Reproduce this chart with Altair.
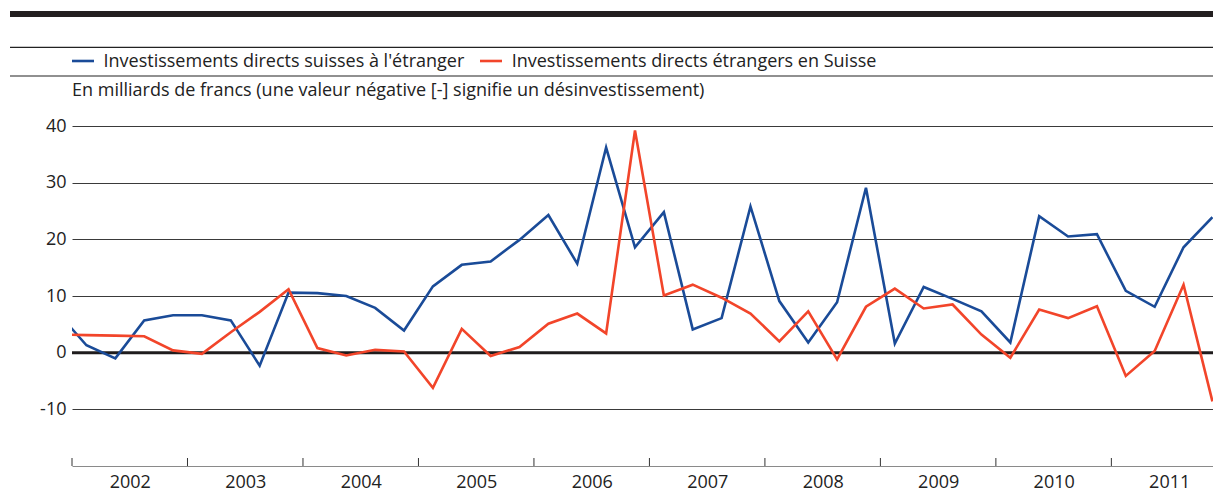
import altair as alt
import pandas as pd

# ---------------- data ----------------
series_names = [
    "Investissements directs suisses à l'étranger",
    "Investissements directs étrangers en Suisse",
]
series_colors = ["#1a4b98", "#f2452a"]

# quarters: 2001 T4 (only partly visible, clipped) then 2002 T1 ... 2011 T4
quarters = ["2001 T4"] + [f"{y} T{q}" for y in range(2002, 2012) for q in range(1, 5)]

swiss_abroad = [
    7.1,
    1.3, -1.0, 5.7, 6.6,
    6.6, 5.7, -2.3, 10.6,
    10.5, 10.0, 7.9, 3.9,
    11.7, 15.5, 16.1, 19.9,
    24.3, 15.7, 36.2, 18.6,
    24.8, 4.1, 6.1, 25.8,
    9.1, 1.8, 8.9, 29.1,
    1.6, 11.6, 9.5, 7.3,
    1.8, 24.1, 20.5, 20.9,
    10.9, 8.1, 18.6, 23.9,
]
foreign_in_ch = [
    3.2,
    3.1, 3.0, 2.9, 0.4,
    -0.2, 3.6, 7.2, 11.2,
    0.8, -0.5, 0.5, 0.2,
    -6.2, 4.2, -0.6, 1.0,
    5.1, 6.9, 3.4, 39.2,
    10.1, 12.0, 9.7, 6.9,
    2.0, 7.3, -1.2, 8.1,
    11.3, 7.8, 8.5, 3.2,
    -0.9, 7.6, 6.1, 8.2,
    -4.1, 0.3, 12.0, -8.6,
]

year_ticks = list(range(2002, 2012))
y_ticks = [-10, 0, 10, 20, 30, 40]

subtitle = "En milliards de francs (une valeur négative [-] signifie un désinvestissement)"


def q_pos(label):
    y, q = label.split(" T")
    return int(y) + (int(q) - 0.5) / 4


rows = []
for name, vals in zip(series_names, [swiss_abroad, foreign_in_ch]):
    for lab, v in zip(quarters, vals):
        rows.append({"serie": name, "t": q_pos(lab), "v": v})
df = pd.DataFrame(rows)

# ---------------- layout ----------------
W, H = 1141, 340
FONT = "Open Sans"
TXT = "#222222"

xs = alt.Scale(domain=[2002, 2011.88], nice=False, zero=False)
ys = alt.Scale(domain=[-20, 40], nice=False, zero=False)

x_axis = alt.Axis(
    values=year_ticks, format="d", labelOffset=57.8, labelFlush=False,
    ticks=False, grid=False, domain=True, domainColor="#8a8a8a", domainWidth=1,
    labelFont=FONT, labelFontSize=18, labelColor=TXT, labelPadding=7, title=None,
)
y_axis = alt.Axis(
    values=y_ticks, grid=True, gridColor="#3a3a3a", gridWidth=1, ticks=False,
    domain=False, labelFont=FONT, labelFontSize=18, labelColor=TXT,
    labelPadding=6, title=None, labelExpr="'' + datum.value",
)

one = pd.DataFrame({"k": [0]})

zero = alt.Chart(pd.DataFrame({"z": [0]})).mark_rule(
    color="#1f1c1d", strokeWidth=3
).encode(y=alt.Y("z:Q", scale=ys, axis=y_axis))

lines = alt.Chart(df).mark_line(strokeWidth=2.6, clip=True).encode(
    x=alt.X("t:Q", scale=xs, axis=x_axis),
    y=alt.Y("v:Q", scale=ys, axis=y_axis),
    color=alt.Color("serie:N", scale=alt.Scale(domain=series_names, range=series_colors), legend=None),
)

ticks = alt.Chart(pd.DataFrame({"year": year_ticks})).mark_rule(
    color="#333333", strokeWidth=1
).encode(
    x=alt.X("year:Q", scale=xs, axis=x_axis),
    y=alt.value(H - 8), y2=alt.value(H),
)

bar = alt.Chart(one).mark_rule(color="#231f20", strokeWidth=6).encode(
    x=alt.value(-62), x2=alt.value(W), y=alt.value(-112)
)
sep1 = alt.Chart(one).mark_rule(color="#222222", strokeWidth=1.2).encode(
    x=alt.value(-62), x2=alt.value(W), y=alt.value(-78.7)
)
sep2 = alt.Chart(one).mark_rule(color="#222222", strokeWidth=1.2).encode(
    x=alt.value(-62), x2=alt.value(W), y=alt.value(-50)
)

leg_sym1 = alt.Chart(one).mark_rule(color=series_colors[0], strokeWidth=2.6).encode(
    x=alt.value(0), x2=alt.value(22), y=alt.value(-65)
)
leg_sym2 = alt.Chart(one).mark_rule(color=series_colors[1], strokeWidth=2.6).encode(
    x=alt.value(408), x2=alt.value(430), y=alt.value(-65)
)
leg_txt1 = alt.Chart(one).mark_text(
    align="left", baseline="alphabetic", font=FONT, fontSize=18, color=TXT
).encode(x=alt.value(31.5), y=alt.value(-58.7), text=alt.value(series_names[0]))
leg_txt2 = alt.Chart(one).mark_text(
    align="left", baseline="alphabetic", font=FONT, fontSize=18, color=TXT
).encode(x=alt.value(439.7), y=alt.value(-58.7), text=alt.value(series_names[1]))
sub_txt = alt.Chart(one).mark_text(
    align="left", baseline="alphabetic", font=FONT, fontSize=18, color=TXT
).encode(x=alt.value(0), y=alt.value(-30), text=alt.value(subtitle))

chart = alt.layer(
    zero, lines, ticks, bar, sep1, sep2, leg_sym1, leg_sym2, leg_txt1, leg_txt2, sub_txt
).properties(
    width=W, height=H,
    padding={"left": 64, "top": 118, "right": 0, "bottom": 28},
    autosize=alt.AutoSizeParams(type="none"),
    background="white",
).configure_view(stroke=None)

chart.save("out.html", embed_options={"renderer": "svg", "actions": False})
